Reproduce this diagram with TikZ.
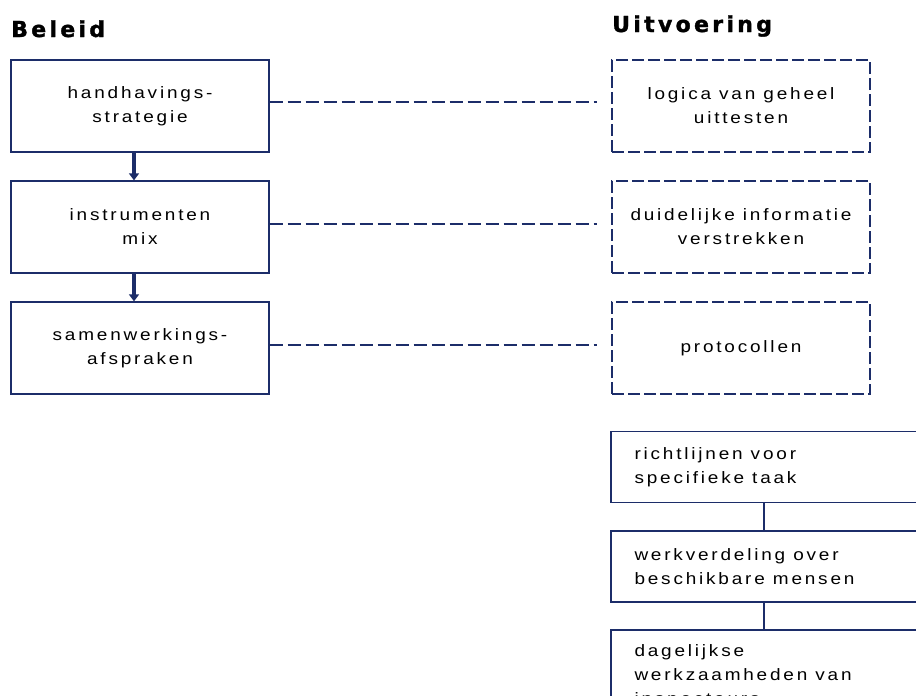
\documentclass[tikz,border=0pt]{standalone}
\usepackage{fontspec}
\setmainfont{Liberation Sans}
\newfontfamily\boxfont[LetterSpace=17, FakeStretch=1.15]{Liberation Sans}
\newfontfamily\headfont[LetterSpace=15, FakeBold=1.5]{DejaVu Sans Bold}
\usepackage{tikz}
\usetikzlibrary{positioning}
\usetikzlibrary{arrows.meta}
\usepackage{xcolor}
\definecolor{navy}{RGB}{28,45,105}

\begin{document}
\begin{tikzpicture}[x=1pt, y=-1pt,
					head/.style={anchor=base west, inner sep=0pt, font=\headfont\fontsize{22}{24}\selectfont},
					lbox/.style={rectangle, draw=navy, line width=1.4pt, minimum width=258, minimum height=92, inner sep=0pt, align=center, font=\boxfont\fontsize{16.5}{24}\selectfont},
					dbox/.style={lbox, dash pattern=on 12pt off 4pt},
					rbox/.style={rectangle, draw=navy, line width=1.4pt, minimum width=306, minimum height=71, inner sep=0pt},
					rtext/.style={anchor=west, inner sep=0pt, align=left, font=\boxfont\fontsize{16.5}{24}\selectfont},
					link/.style={draw=navy, line width=1.8pt, dash pattern=on 13pt off 5pt, shorten >=14pt},
					down/.style={navy, line width=3.2pt, -{Triangle[width=10pt,length=7pt]}}
					]
					\useasboundingbox (0,0) rectangle (916,696);
					
					%Headings
					\node[head] (beleid)     at (11,37) {Beleid};
					\node[head] (uitvoering) at (612,32) {Uitvoering};
					
					%Beleid
					\node[lbox] (l1) at (140,106) {handhavings-\\strategie};
					\node[lbox] (l2) at (140,227) {instrumenten\\mix};
					\node[lbox] (l3) at (140,348) {samenwerkings-\\afspraken};
					
					%Uitvoering
					\node[dbox] (d1) at (741,106) {logica van geheel\\uittesten};
					\node[dbox] (d2) at (741,227) {duidelijke informatie\\verstrekken};
					\node[dbox] (d3) at (741,348) {protocollen};
					
					\node[rbox] (r1) at (764,467)   {};
					\node[rbox] (r2) at (764,566.5) {};
					\node[rbox] (r3) at (764,665.5) {};
					\node[rtext] (r1t) at ([xshift=24]r1.west) {richtlijnen voor\\specifieke taak};
					\node[rtext] (r2t) at ([xshift=24]r2.west) {werkverdeling over\\beschikbare mensen};
					\node[rtext] (r3t) at ([xshift=24,yshift=-11]r3.west) {dagelijkse\\werkzaamheden van\\inspecteurs};
					
					%Lines
					\draw[down] ([xshift=-6]l1.south) to ([xshift=-6]l2.north);
					\draw[down] ([xshift=-6]l2.south) to ([xshift=-6]l3.north);
					\draw[link] ([yshift=4]l1.east) to ([yshift=4]d1.west);
					\draw[link] ([yshift=3]l2.east) to ([yshift=3]d2.west);
					\draw[link] ([yshift=3]l3.east) to ([yshift=3]d3.west);
					\draw[navy, line width=1.8pt] (r1.south) to (r2.north);
					\draw[navy, line width=1.8pt] (r2.south) to (r3.north);
				\end{tikzpicture}
\end{document}
